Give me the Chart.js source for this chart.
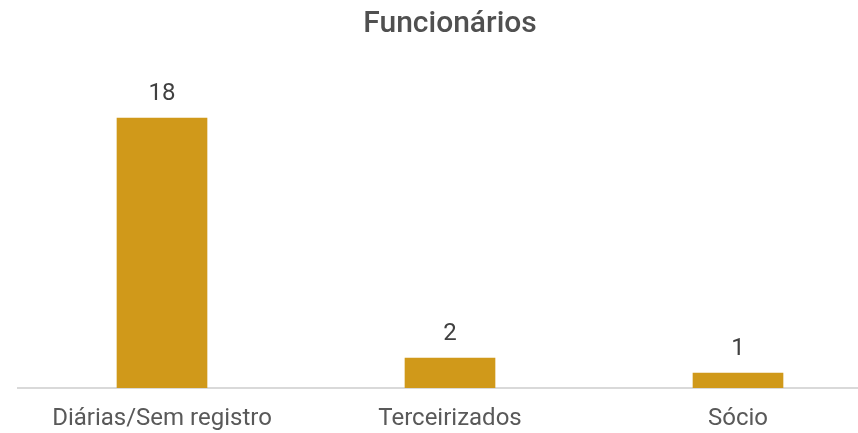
<!DOCTYPE html>
<html>
<head>
<meta charset="utf-8">
<script src="https://cdn.jsdelivr.net/npm/chart.js@4/dist/chart.umd.min.js"></script>
<style>
html,body{margin:0;padding:0;background:#fff;overflow:hidden;}
#wrap{position:relative;width:858px;height:433px;overflow:hidden;}
#c{position:absolute;left:0;top:0;}
</style>
</head>
<body>
<div id="wrap"><canvas id="c" width="882" height="433" style="width:882px;height:433px"></canvas></div>
<script>
const chartTitle = "Funcionários";
const categories = ["Diárias/Sem registro", "Terceirizados", "Sócio"];
const values = [18, 2, 1];

const valueLabels = {
  id: 'valueLabels',
  afterDatasetsDraw(chart) {
    const ctx = chart.ctx;
    const meta = chart.getDatasetMeta(0);
    ctx.save();
    ctx.font = '24px Roboto';
    ctx.fillStyle = '#404040';
    ctx.textAlign = 'center';
    ctx.textBaseline = 'middle';
    meta.data.forEach((bar, i) => {
      ctx.fillText(String(chart.data.datasets[0].data[i]), bar.x, bar.y - 24);
    });
    ctx.restore();
  }
};

new Chart(document.getElementById('c'), {
  type: 'bar',
  data: {
    labels: categories,
    datasets: [{
      data: values,
      backgroundColor: '#D0991A',
      barThickness: 90
    }]
  },
  options: {
    responsive: false,
    animation: false,
    layout: { padding: { left: 18, right: 0, top: 0, bottom: 0 } },
    plugins: {
      legend: { display: false },
      tooltip: { enabled: false },
      title: {
        display: true,
        text: chartTitle,
        color: '#505050',
        font: { family: "Roboto", size: 30, weight: '500', lineHeight: 1.2 },
        padding: { top: 6.5, bottom: 45.5 }
      }
    },
    scales: {
      x: {
        grid: { display: false, drawTicks: false },
        border: { display: true, color: '#D9D9D9', width: 2 },
        ticks: { color: '#595959', font: { family: 'Roboto', size: 24, lineHeight: 1.2 }, padding: 17 },
        afterFit(scale) { scale.height = 45; }
      },
      y: {
        display: false,
        min: 0,
        max: 20
      }
    }
  },
  plugins: [valueLabels]
});
</script>
</body>
</html>
